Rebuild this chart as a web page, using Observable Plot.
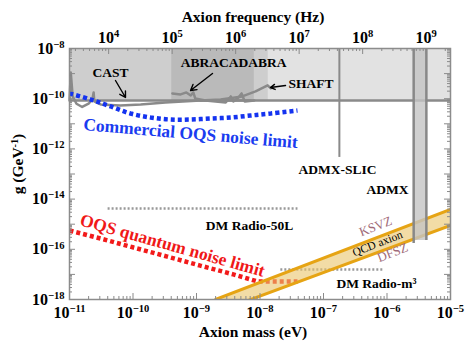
<!DOCTYPE html>
<html><head><meta charset="utf-8">
<script src="https://cdn.jsdelivr.net/npm/d3@7"></script>
<script src="https://cdn.jsdelivr.net/npm/@observablehq/plot@0.6"></script>
<style>body{margin:0;background:#fff}</style>
</head><body><div id="chart"></div>
<script>
// ---- axis ticks ----
const massTicks = [1e-11, 1e-10, 1e-9, 1e-8, 1e-7, 1e-6, 1e-5];
const gTicks = [1e-18, 1e-17, 1e-16, 1e-15, 1e-14, 1e-13, 1e-12, 1e-11, 1e-10, 1e-9, 1e-8];
const gLabelTicks = [1e-18, 1e-16, 1e-14, 1e-12, 1e-10, 1e-8];
const freqTicks = [1e3, 1e4, 1e5, 1e6, 1e7, 1e8, 1e9];
const freqLabelTicks = [1e4, 1e5, 1e6, 1e7, 1e8, 1e9];
const EV_PER_HZ = 4.135667e-15;

// ---- data (log10 mass in eV, log10 g in GeV^-1) ----
const castLimitLogG = -10.07;
const regionLogM1 = [-11, -11, -9.39];
const regionLogM2 = [-5, -7.87, -8.09];
const regionTopLogG = -8;

const castLogM = [-11.00, -10.98, -10.95, -10.89, -10.80, -10.70, -10.64, -10.62, -10.61, -10.51, -10.20, -9.88, -9.49, -8.94, -8.15];
const castLogG = [-10.07, -8.96, -9.91, -10.20, -10.33, -10.20, -10.03, -9.75, -10.11, -10.23, -10.27, -10.23, -10.15, -10.07, -10.07];
const abraLogM = [-9.38, -9.25, -9.16, -9.09, -9.05, -9.02, -8.86, -8.70, -8.54, -8.46, -8.42, -8.34, -8.29, -8.24, -8.09];
const abraLogG = [-9.79, -9.83, -9.75, -9.87, -9.75, -9.99, -10.07, -10.11, -10.15, -9.91, -10.11, -9.95, -9.79, -10.11, -10.07];
const shaftLogM = [-8.94, -8.62, -8.28, -8.07, -7.88, -7.83];
const shaftLogG = [-10.07, -10.03, -9.91, -9.71, -9.47, -9.59];

const admxSlicLogM = -6.75;
const admxSlicLogG = [-8, -12.34];
const admxLogM = [-5.58, -5.38];
const admxBottomLogG = [-15.77, -15.65];

const commLogM = [-11.00, -10.67, -10.35, -10.04, -9.72, -9.41, -9.09, -8.78, -8.46, -8.15, -7.83, -7.41];
const commLogG = [-9.79, -10.03, -10.31, -10.59, -10.75, -10.83, -10.83, -10.79, -10.75, -10.67, -10.59, -10.47];
const quantLogM = [-11.00, -10.51, -9.99, -9.46, -8.94, -8.42, -8.04, -7.41];
const quantLogG = [-15.25, -15.57, -15.93, -16.29, -16.65, -17.00, -17.28, -17.28];

const dm50LogM = [-10.40, -7.41];
const dm50LogG = -14.37;
const dmM3LogM = [-7.68, -6.06];
const dmM3LogG = -16.80;

const qcdLogM = [-8.70, -5.00];
const ksvzLogG = [-18.00, -14.41];
const dfszLogG = [-18.52, -15.05];

// ---- build tables ----
const P = (ms, gs) => ms.map((m, i) => ({m: 10 ** m, g: 10 ** gs[i]}));
const regions = regionLogM1.map((m1, i) => ({x1: 10 ** m1, x2: 10 ** regionLogM2[i], y1: 10 ** castLimitLogG, y2: 10 ** regionTopLogG, k: i}));
const qcd = qcdLogM.map((m, i) => ({m: 10 ** m, k: 10 ** ksvzLogG[i], d: 10 ** dfszLogG[i]}));
const slic = [{m: 10 ** admxSlicLogM, g1: 10 ** admxSlicLogG[0], g2: 10 ** admxSlicLogG[1]}];
const admxBand = [{x1: 10 ** admxLogM[0], x2: 10 ** admxLogM[1], y1: 10 ** d3.max(admxBottomLogG), y2: 1e-8}];
const admxEdges = admxLogM.map((m, i) => ({m: 10 ** m, g1: 10 ** admxBottomLogG[i], g2: 1e-8}));

const labelsBlack = [
  {t: "CAST", m: -10.354, g: -8.956},
  {t: "ABRACADABRA", m: -8.417, g: -8.558},
  {t: "ADMX-SLIC", m: -6.78, g: -12.82},
  {t: "ADMX", m: -5.992, g: -13.62},
  {t: "DM Radio-50L", m: -8.165, g: -15.05},
  {t: "DM Radio-m³", m: -6.165, g: -17.36}
];
const arrows = [
  {m1: -10.276, g1: -9.275, m2: -10.118, g2: -9.952},
  {m1: -8.748, g1: -8.996, m2: -9.094, g2: -9.673},
  {m1: -7.598, g1: -9.474, m2: -7.835, g2: -9.554}
];

const xMinor = [];
for (const t of massTicks.slice(0, -1)) for (let k = 2; k <= 9; k++) xMinor.push(t * k);
const yMinor = [];
for (const t of gTicks.slice(0, -1)) for (let k = 2; k <= 9; k++) yMinor.push(t * k);
const fMinor = [];
for (const t of freqTicks) for (let k = 2; k <= 9; k++) { const m = t * k * EV_PER_HZ; if (m > 1e-11 && m < 1e-5) fMinor.push(m); }
const fMajor = freqLabelTicks.map(f => f * EV_PER_HZ);

const IW = 471 - 69 - 21, IH = 350 - 48 - 51;
const TICK = "#8a8a8a";
const exp = d => Math.round(Math.log10(d));
const fmt = d => `10^{${exp(d) < 0 ? "−" + (-exp(d)) : exp(d)}}`;
const L = (o) => Object.assign({fontWeight: "bold", fontFamily: "'Liberation Serif','Times New Roman',serif"}, o);
const XY = {x: d => 10 ** d.m, y: d => 10 ** d.g, text: "t"};
const DOT = {strokeLinecap: "butt", strokeLinejoin: "miter"};

const chart = Plot.plot({
  width: 471, height: 350,
  marginLeft: 69, marginRight: 21, marginTop: 48, marginBottom: 51,
  x: {type: "log", domain: [1e-11, 1e-5]},
  y: {type: "log", domain: [1e-18, 1e-8]},
  style: {fontFamily: "'Liberation Serif','Times New Roman',serif", fontWeight: "bold", fontSize: "16px", background: "white", color: "black"},
  marks: [
    Plot.rect(regions, {x1: "x1", x2: "x2", y1: "y1", y2: "y2", fill: d => ["#e2e2e2", "#cecece", "#bababa"][d.k]}),
    Plot.ruleY([10 ** castLimitLogG], {y: d => d, stroke: "#8a8a8a", strokeWidth: 2.5}),
    Plot.ruleX(slic, {x: "m", y1: "g1", y2: "g2", stroke: "#8a8a8a", strokeWidth: 2}),
    Plot.line(P(castLogM, castLogG), {x: "m", y: "g", stroke: "#8a8a8a", strokeWidth: 2.5}),
    Plot.line(P(abraLogM, abraLogG), {x: "m", y: "g", stroke: "#8a8a8a", strokeWidth: 2.5}),
    Plot.line(P(shaftLogM, shaftLogG), {x: "m", y: "g", stroke: "#8a8a8a", strokeWidth: 2.5}),
    Plot.line(P(commLogM, commLogG), {x: "m", y: "g", stroke: "#1433f0", strokeWidth: 4.5, strokeDasharray: "4,3", curve: "catmull-rom", ...DOT}),
    Plot.line(P(quantLogM, quantLogG), {x: "m", y: "g", stroke: "#f21a1a", strokeWidth: 4.5, strokeDasharray: "4,3", ...DOT}),
    Plot.line(P(dm50LogM, [dm50LogG, dm50LogG]), {x: "m", y: "g", stroke: "#999", strokeWidth: 2.5, strokeDasharray: "2,2", ...DOT}),
    Plot.line(P(dmM3LogM, [dmM3LogG, dmM3LogG]), {x: "m", y: "g", stroke: "#999", strokeWidth: 2.5, strokeDasharray: "2,2", ...DOT}),
    Plot.areaY(qcd, {x: "m", y1: "d", y2: "k", fill: "#e9c46a", fillOpacity: 0.6, clip: true}),
    Plot.line(qcd, {x: "m", y: "k", stroke: "#e6a414", strokeWidth: 3, clip: true}),
    Plot.line(qcd, {x: "m", y: "d", stroke: "#e6a414", strokeWidth: 3, clip: true}),
    Plot.rect(admxBand, {x1: "x1", x2: "x2", y1: "y1", y2: "y2", fill: "#c4c4c4", fillOpacity: 0.8}),
    Plot.ruleX(admxEdges, {x: "m", y1: "g1", y2: "g2", stroke: "#888", strokeWidth: 2.5}),
    Plot.frame({stroke: "#8c8c8c", strokeWidth: 1.5}),
    // ticks (inward)
    Plot.tickX(massTicks, {x: d => d, stroke: TICK, insetTop: IH - 6}),
    Plot.tickX(xMinor, {x: d => d, stroke: TICK, insetTop: IH - 3}),
    Plot.tickX(fMajor, {x: d => d, stroke: TICK, insetBottom: IH - 6}),
    Plot.tickX(fMinor, {x: d => d, stroke: TICK, insetBottom: IH - 3}),
    Plot.tickY(gTicks, {y: d => d, stroke: TICK, insetRight: IW - 6}),
    Plot.tickY(yMinor, {y: d => d, stroke: TICK, insetRight: IW - 3}),
    Plot.tickY(gTicks, {y: d => d, stroke: TICK, insetLeft: IW - 6}),
    Plot.tickY(yMinor, {y: d => d, stroke: TICK, insetLeft: IW - 3}),
    // axis labels
    Plot.axisX({anchor: "bottom", ticks: massTicks, tickSize: 0, tickPadding: 7, tickFormat: fmt, label: null, fontSize: 16, fontWeight: "bold"}),
    Plot.text(fMajor, L({x: d => d, frameAnchor: "top", lineAnchor: "bottom", textAnchor: "middle", dy: -6, text: m => fmt(m / EV_PER_HZ), fontSize: 16})),
    Plot.axisY({anchor: "left", ticks: gLabelTicks, tickSize: 0, tickPadding: 5, tickFormat: fmt, label: null, fontSize: 16, fontWeight: "bold"}),
    Plot.text(["Axion frequency (Hz)"], L({frameAnchor: "top", lineAnchor: "bottom", textAnchor: "middle", text: d => d, dy: -27, dx: -7, fontSize: 15.5})),
    Plot.text(["Axion mass (eV)"], L({frameAnchor: "bottom", lineAnchor: "bottom", textAnchor: "middle", text: d => d, dy: 37, dx: -7, fontSize: 15.5})),
    Plot.text(["g (GeV^{-1})"], L({frameAnchor: "left", textAnchor: "middle", lineAnchor: "middle", text: d => d, rotate: -90, dx: -51, dy: -10, fontSize: 15.5})),
    // annotations
    Plot.text(labelsBlack, L({...XY, fontSize: 13.5, fill: "black"})),
    Plot.text([{t: "SHAFT", m: -7.551, g: -9.394}], L({...XY, fontSize: 13.5, textAnchor: "start"})),
    Plot.arrow(arrows, {x1: d => 10 ** d.m1, y1: d => 10 ** d.g1, x2: d => 10 ** d.m2, y2: d => 10 ** d.g2, stroke: "black", strokeWidth: 1.4, headLength: 7}),
    Plot.text([{t: "Commercial OQS noise limit", m: -9.094, g: -11.386}], L({...XY, fontSize: 17.5, fill: "#1a3cf0", rotate: 4.8})),
    Plot.text([{t: "OQS quantum noise limit", m: -9.378, g: -15.85}], L({...XY, fontSize: 17.5, fill: "#f01818", rotate: 15.7})),
    Plot.text([{t: "KSVZ", m: -6.181, g: -15.09}, {t: "DFSZ", m: -5.913, g: -16.13}], L({...XY, fontSize: 13, fontWeight: "normal", fill: "#a06a78", rotate: -21})),
    Plot.text([{t: "QCD axion", m: -6.15, g: -15.77}], L({...XY, fontSize: 11.5, fontWeight: "normal", fill: "black", rotate: -21}))
  ]
});

// superscripts: "a^{b}c"
d3.select(chart).selectAll("text").each(function () {
  const s = this.textContent;
  if (!s.includes("^{")) return;
  const m = s.match(/^(.*)\^\{([^}]*)\}(.*)$/);
  if (!m) return;
  this.textContent = "";
  const sel = d3.select(this);
  sel.append("tspan").text(m[1]);
  sel.append("tspan").attr("font-size", "0.66em").attr("dy", "-0.55em").text(m[2]);
  if (m[3]) sel.append("tspan").attr("dy", "0.363em").text(m[3]);
});

document.getElementById("chart").appendChild(chart);
</script>
</body></html>
